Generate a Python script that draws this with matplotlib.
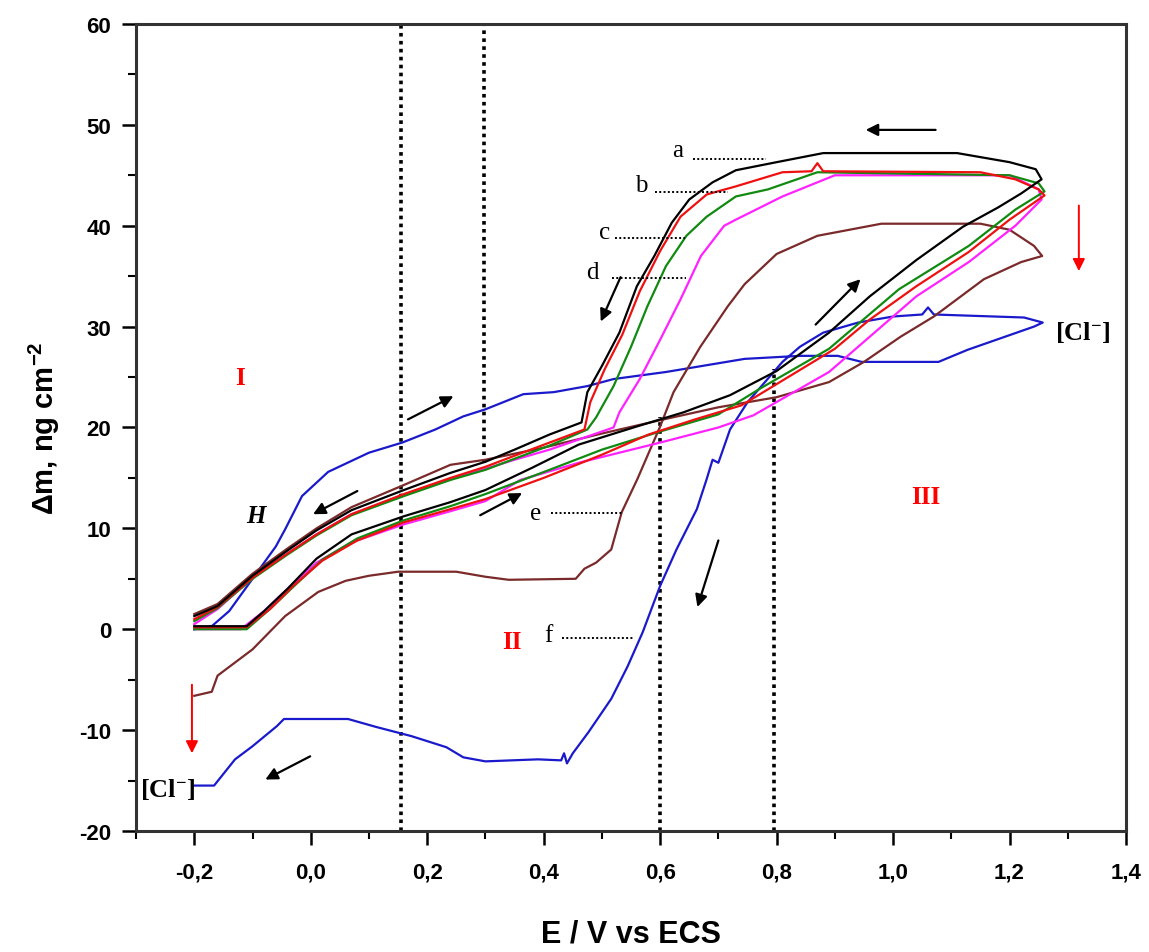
import matplotlib
matplotlib.use("Agg")
import matplotlib.pyplot as plt
from matplotlib.ticker import MultipleLocator, FuncFormatter

plt.rcParams['mathtext.fontset'] = 'custom'
plt.rcParams['mathtext.rm'] = 'Liberation Sans:bold'
plt.rcParams['mathtext.it'] = 'Liberation Sans:bold'
plt.rcParams['mathtext.bf'] = 'Liberation Sans:bold'
plt.rcParams['mathtext.sf'] = 'Liberation Serif:bold'

# ---- data (E / V vs ECS, delta m / ng cm-2) ----
a_x = [-0.2, -0.11, -0.08, -0.04, 0.01, 0.07, 0.16, 0.24, 0.3, 0.38, 0.46, 0.56, 0.64, 0.72, 0.8, 0.89, 0.96, 1.04, 1.12, 1.18, 1.22, 1.255,
       1.245, 1.2, 1.11, 0.88, 0.8, 0.73, 0.69, 0.65, 0.62, 0.59, 0.56, 0.53, 0.5, 0.475, 0.465, 0.41, 0.35, 0.3, 0.24, 0.16, 0.07, 0.01, -0.04, -0.1, -0.16, -0.2]
a_y = [0.3, 0.3, 1.8, 4.0, 7.0, 9.4, 11.2, 12.6, 13.8, 16.0, 18.3, 20.1, 21.5, 23.2, 25.6, 29.4, 33.0, 36.6, 39.9, 41.8, 43.2, 44.6,
       45.6, 46.3, 47.2, 47.2, 46.3, 45.5, 44.3, 42.6, 40.3, 37.0, 34.0, 29.4, 26.1, 23.5, 20.5, 19.3, 17.8, 16.6, 15.5, 13.8, 11.8, 9.8, 7.8, 5.3, 2.3, 1.3]

b_x = [-0.2, -0.11, -0.07, -0.03, 0.02, 0.08, 0.16, 0.24, 0.3, 0.4, 0.5, 0.58, 0.66, 0.74, 0.82, 0.9, 0.96, 1.04, 1.13, 1.2, 1.26,
       1.25, 1.21, 1.15, 0.88, 0.87, 0.86, 0.81, 0.73, 0.68, 0.635, 0.6, 0.565, 0.535, 0.505, 0.48, 0.47, 0.41, 0.35, 0.3, 0.24, 0.16, 0.07, 0.01, -0.04, -0.1, -0.16, -0.2]
b_y = [0.2, 0.2, 2.0, 4.3, 6.8, 8.8, 10.6, 11.9, 12.9, 15.0, 17.3, 19.3, 20.8, 22.2, 25.0, 27.8, 30.7, 34.0, 37.4, 40.6, 43.0,
       43.6, 44.6, 45.3, 45.4, 46.2, 45.4, 45.3, 43.9, 43.1, 40.9, 37.5, 33.5, 29.2, 25.8, 22.5, 19.8, 18.5, 17.2, 16.1, 15.0, 13.4, 11.4, 9.4, 7.5, 5.1, 2.2, 1.0]

c_x = [-0.2, -0.11, -0.07, -0.03, 0.02, 0.08, 0.16, 0.24, 0.3, 0.41, 0.5, 0.6, 0.7, 0.77, 0.89, 1.01, 1.13, 1.21, 1.26,
       1.25, 1.2, 0.87, 0.785, 0.73, 0.68, 0.645, 0.61, 0.578, 0.55, 0.52, 0.49, 0.475, 0.41, 0.35, 0.3, 0.24, 0.16, 0.07, 0.01, -0.04, -0.1, -0.16, -0.2]
c_y = [0.0, 0.0, 2.0, 4.2, 6.9, 9.0, 10.8, 12.2, 13.4, 15.8, 17.8, 19.6, 21.3, 23.8, 27.8, 33.7, 38.0, 41.6, 43.4,
       44.2, 45.0, 45.3, 43.6, 42.9, 40.9, 39.0, 36.0, 32.0, 28.0, 24.1, 21.0, 19.8, 18.2, 16.9, 15.8, 14.8, 13.2, 11.3, 9.3, 7.4, 5.0, 2.1, 0.8]

d_x = [-0.2, -0.12, -0.08, -0.04, 0.01, 0.07, 0.16, 0.24, 0.3, 0.36, 0.46, 0.6, 0.7, 0.76, 0.89, 0.96, 1.04, 1.13, 1.21, 1.255,
       1.25, 1.2, 0.9, 0.81, 0.73, 0.71, 0.67, 0.635, 0.6, 0.565, 0.53, 0.52, 0.46, 0.41, 0.35, 0.3, 0.24, 0.16, 0.07, 0.01, -0.04, -0.1, -0.16, -0.2]
d_y = [0.0, 0.0, 1.8, 4.0, 6.6, 8.6, 10.4, 11.7, 12.7, 14.8, 16.5, 18.5, 20.0, 21.2, 25.5, 29.0, 33.0, 36.4, 40.0, 42.6,
       43.6, 45.0, 45.0, 42.9, 40.6, 40.0, 37.0, 32.7, 28.7, 24.8, 21.5, 20.0, 18.8, 17.8, 16.8, 15.9, 14.9, 13.3, 11.4, 9.4, 7.5, 5.1, 2.0, 0.5]

e_x = [-0.2, -0.17, -0.16, -0.1, -0.044, 0.013, 0.06, 0.1, 0.15, 0.25, 0.3, 0.34, 0.455, 0.47, 0.49, 0.516, 0.534, 0.561, 0.6, 0.623, 0.669, 0.716, 0.745, 0.8, 0.87, 0.98, 1.15, 1.2, 1.242, 1.256,
       1.22, 1.156, 1.07, 1.013, 0.95, 0.89, 0.8, 0.7, 0.606, 0.5, 0.4, 0.3, 0.24, 0.16, 0.07, 0.01, -0.04, -0.1, -0.16, -0.2]
e_y = [-6.6, -6.2, -4.6, -2.0, 1.3, 3.7, 4.8, 5.3, 5.7, 5.7, 5.2, 4.9, 5.0, 6.0, 6.6, 7.9, 11.6, 14.9, 20.1, 23.5, 28.0, 32.0, 34.2, 37.2, 39.0, 40.2, 40.2, 39.6, 38.0, 37.0,
       36.4, 34.7, 31.0, 29.0, 26.5, 24.5, 23.0, 22.0, 20.8, 19.4, 18.0, 16.8, 16.3, 14.3, 12.1, 10.0, 8.0, 5.5, 2.5, 1.5]

f_x = [-0.2, -0.17, -0.14, -0.1, -0.06, -0.044, -0.015, 0.03, 0.1, 0.157, 0.214, 0.262, 0.3, 0.365, 0.417, 0.475, 0.52, 0.61, 0.745, 0.84, 0.905, 0.946, 1.078, 1.128, 1.242, 1.257,
       1.225, 1.07, 1.06, 1.05, 1.0, 0.94, 0.88, 0.84, 0.81, 0.795, 0.75, 0.72, 0.7, 0.69, 0.68, 0.663, 0.628, 0.6, 0.57, 0.544, 0.516, 0.477, 0.45, 0.44, 0.435, 0.43, 0.39, 0.3, 0.262, 0.233, 0.173, 0.113, 0.064, -0.046, -0.058, -0.1, -0.13, -0.166, -0.2]
f_y = [0.0, 0.3, 1.8, 5.0, 8.2, 9.9, 13.2, 15.6, 17.5, 18.5, 19.8, 21.1, 21.8, 23.3, 23.5, 24.1, 24.8, 25.5, 26.8, 27.1, 27.1, 26.5, 26.5, 27.7, 30.0, 30.4,
       30.9, 31.2, 31.9, 31.2, 31.0, 30.4, 29.4, 28.0, 26.5, 25.5, 22.5, 19.8, 16.5, 16.8, 14.9, 11.9, 7.9, 4.3, -0.3, -3.7, -6.9, -10.2, -12.3, -13.3, -12.3, -13.0, -12.9, -13.1, -12.7, -11.7, -10.6, -9.7, -8.9, -8.9, -9.6, -11.6, -12.9, -15.5, -15.5]

vlines_x = [0.155, 0.298, 0.6, 0.795]
vlines_ymin = [-20, 16.5, -20, -20]
vlines_ymax = [60, 60, 21.0, 25.8]

# ---- figure ----
fig = plt.figure(figsize=(11.49, 9.53), dpi=100)
ax = fig.add_axes([0.1184, 0.127, 0.8616, 0.8468])

ax.set_xlim(-0.3, 1.4)
ax.set_ylim(-20, 60)

for x, y0, y1 in zip(vlines_x, vlines_ymin, vlines_ymax):
    ax.plot([x, x], [y0, y1], color='black', lw=2.6, linestyle=(0, (1, 1.2)), zorder=1)

curves = [(f_x, f_y, '#1a1acc'), (e_x, e_y, '#7a2a2a'), (d_x, d_y, '#ff22ff'),
          (c_x, c_y, '#108a10'), (b_x, b_y, '#ee1111'), (a_x, a_y, '#000000')]
for xs, ys, col in curves:
    ax.plot(xs, ys, color=col, lw=1.6, zorder=2)

# labels with dotted leaders
serif = 'Liberation Serif'
labels = [('a', 0.63, 47.5, 0.657, 0.781, 46.6),
          ('b', 0.568, 44.0, 0.592, 0.716, 43.3),
          ('c', 0.504, 39.4, 0.522, 0.642, 38.8),
          ('d', 0.484, 35.4, 0.518, 0.645, 34.8),
          ('e', 0.386, 11.5, 0.412, 0.535, 11.5),
          ('f', 0.408, -0.6, 0.432, 0.554, -0.9)]
for t, tx, ty, lx0, lx1, ly in labels:
    ax.text(tx, ty, t, fontsize=18, family=serif, ha='center', va='center')
    ax.plot([lx0, lx1], [ly, ly], color='black', lw=1.4, linestyle=(0, (1, 1.2)))

ax.text(-0.121, 25, 'I', color='red', fontsize=18, fontweight='bold', family=serif, ha='center', va='center')
ax.text(0.345, -1.2, 'II', color='red', fontsize=18, fontweight='bold', family=serif, ha='center', va='center')
ax.text(1.056, 13.2, 'III', color='red', fontsize=18, fontweight='bold', family=serif, ha='center', va='center')
ax.text(-0.094, 11.3, 'H', fontsize=18, fontweight='bold', fontstyle='italic', family=serif, ha='center', va='center')
for (cx, cy) in [(1.325, 29.5), (-0.245, -15.8)]:
    ax.text(cx, cy, '$\\mathsf{[Cl^{-}]}$', fontsize=19, ha='center', va='center')

arrows = [((1.073, 49.5), (0.953, 49.5)),
          ((0.532, 34.9), (0.498, 30.5)),
          ((0.867, 30.2), (0.944, 34.7)),
          ((0.167, 20.8), (0.245, 23.1)),
          ((0.08, 13.7), (0.004, 11.4)),
          ((0.291, 11.3), (0.363, 13.5)),
          ((0.70, 8.8), (0.664, 2.2)),
          ((-0.001, -12.6), (-0.078, -14.9))]
for tail, head in arrows:
    ax.annotate('', xy=head, xytext=tail,
                arrowprops=dict(arrowstyle='-|>', color='black', lw=1.6, mutation_scale=18, shrinkA=0, shrinkB=0))
for tail, head in [((1.319, 42.0), (1.319, 35.5)), ((-0.204, -5.5), (-0.204, -12.3))]:
    ax.annotate('', xy=head, xytext=tail,
                arrowprops=dict(arrowstyle='-|>', color='red', lw=1.4, mutation_scale=18, shrinkA=0, shrinkB=0))

# axes styling
ax.xaxis.set_major_locator(MultipleLocator(0.2))
ax.xaxis.set_minor_locator(MultipleLocator(0.1))
ax.yaxis.set_major_locator(MultipleLocator(10))
ax.yaxis.set_minor_locator(MultipleLocator(5))
ax.xaxis.set_major_formatter(FuncFormatter(lambda v, p: ('%.1f' % v).replace('.', ',').replace('-0,0', '0,0')))
ax.yaxis.set_major_formatter(FuncFormatter(lambda v, p: '%d' % round(v)))
ax.tick_params(which='major', direction='out', length=10, width=1.8, top=False, right=False)
ax.tick_params(axis='y', which='major', pad=8)
ax.tick_params(axis='x', which='major', pad=12)
ax.tick_params(which='minor', direction='out', length=6, width=1.5, top=False, right=False)
for lab in ax.get_xticklabels() + ax.get_yticklabels():
    lab.set_fontfamily('Liberation Sans')
    lab.set_fontweight('bold')
    lab.set_fontsize(16)
for s in ax.spines.values():
    s.set_linewidth(2.2)
    s.set_color('#333333')

ax.set_xlabel('E / V vs ECS', fontsize=22, family='Liberation Sans', fontweight='bold', labelpad=26)
ax.set_ylabel('$\\Delta$m, ng cm$^{-2}$', fontsize=21, family='Liberation Sans', fontweight='bold', labelpad=12)

fig.savefig('out.png', dpi=100)
